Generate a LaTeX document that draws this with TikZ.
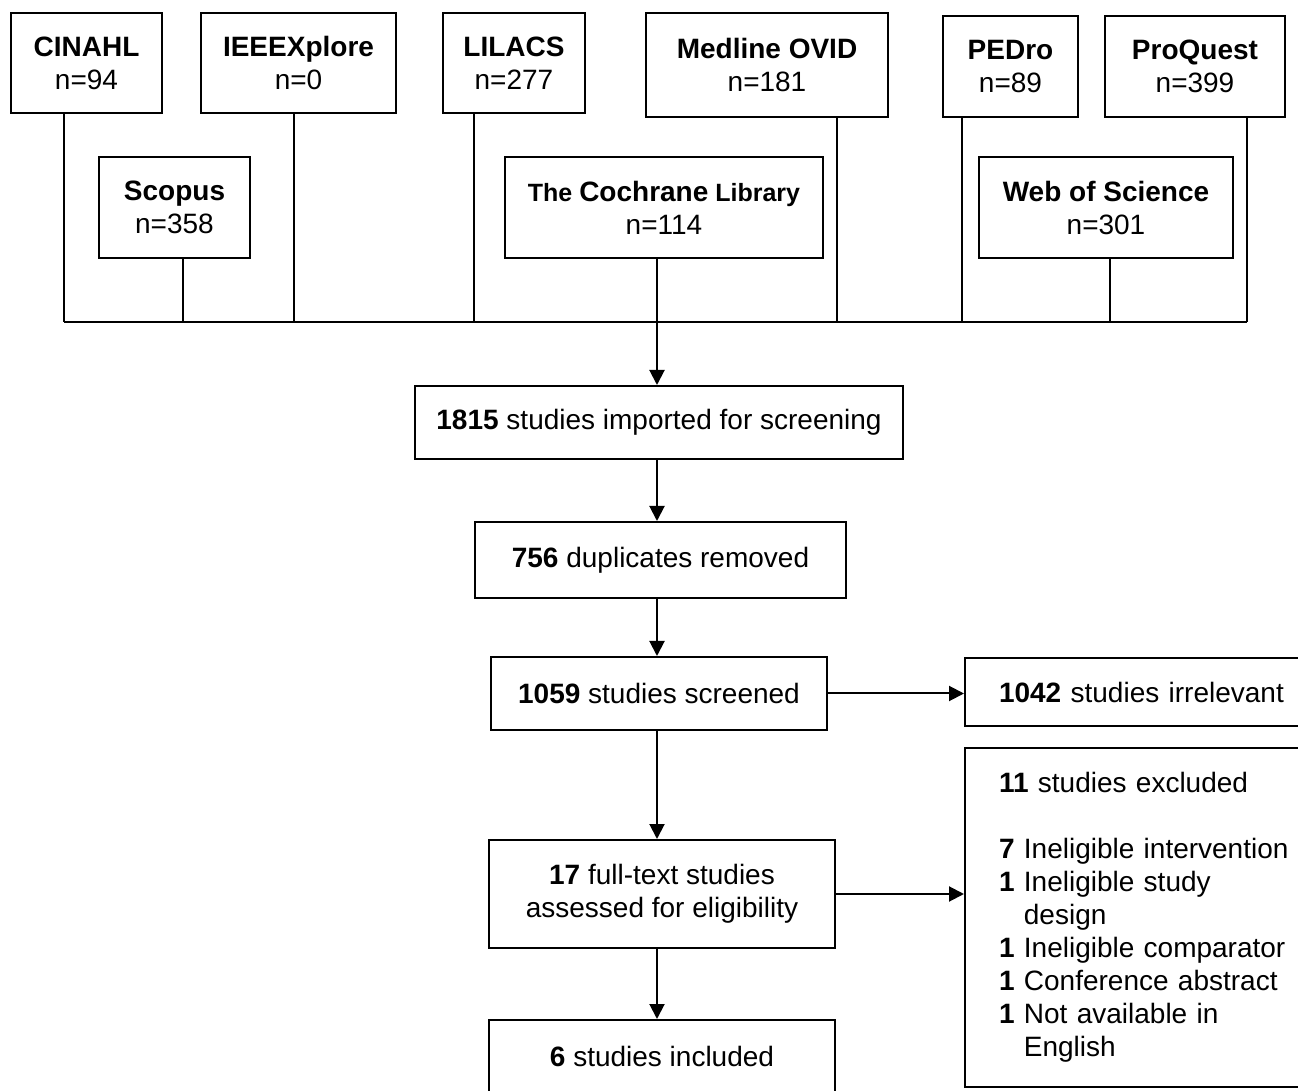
\documentclass[tikz,border=0pt]{standalone}
\usepackage{fontspec}
\setmainfont{Liberation Sans}
\usetikzlibrary{arrows.meta}

\tikzset{
  dbbox/.style={draw, line width=1pt, inner sep=0pt, align=center, anchor=north west,
    font=\fontsize{14}{16.5}\selectfont},
  listbox/.style={dbbox, align=left, text width=150pt, inner xsep=17pt},
  arr/.style={-{Triangle[width=7.5pt,length=7.5pt]}},
}

\begin{document}
\begin{tikzpicture}[x=0.5pt, y=-0.5pt, line width=1pt]
\useasboundingbox (0,0) rectangle (1298,1091);
\clip (0,0) rectangle (1298,1091);

% databases
\node[dbbox, minimum width=75.5pt, minimum height=50pt] (cinahl) at (10,12) {\textbf{CINAHL}\\n=94};
\node[dbbox, minimum width=97.5pt, minimum height=50pt] (ieee) at (200,12) {\textbf{IEEEXplore}\\n=0};
\node[dbbox, minimum width=71pt, minimum height=50pt] (lilacs) at (442,12) {\textbf{LILACS}\\n=277};
\node[dbbox, minimum width=121pt, minimum height=52pt] (medline) at (645,12) {\textbf{Medline OVID}\\n=181};
\node[dbbox, minimum width=67.5pt, minimum height=50.5pt] (pedro) at (942,15) {\textbf{PEDro}\\n=89};
\node[dbbox, minimum width=90pt, minimum height=50.5pt] (proquest) at (1104,15) {\textbf{ProQuest}\\n=399};
\node[dbbox, minimum width=75.5pt, minimum height=50.5pt] (scopus) at (98,156) {\textbf{Scopus}\\n=358};
\node[dbbox, minimum width=159pt, minimum height=50.5pt] (cochrane) at (504,156)
  {\fontsize{12.5}{15.5}\selectfont\textbf{The {\fontsize{14}{15.5}\selectfont Cochrane} Library}\\n=114};
\node[dbbox, minimum width=127pt, minimum height=50.5pt] (wos) at (978,156) {\textbf{Web of Science}\\n=301};

% screening steps
\node[dbbox, minimum width=244pt, minimum height=36.5pt] (imported) at (414,385) {\textbf{1815} studies imported for screening};
\node[dbbox, minimum width=185.5pt, minimum height=38pt] (dup) at (474,521) {\textbf{756} duplicates removed};
\node[dbbox, minimum width=168pt, minimum height=36.5pt] (screened) at (490,656) {\textbf{1059} studies screened};
\node[dbbox, minimum width=173pt, minimum height=54pt] (fulltext) at (488,839) {\textbf{17} full-text studies\\assessed for eligibility};
\node[dbbox, minimum width=173pt, minimum height=36.5pt] (included) at (488,1019) {\textbf{6} studies included};

% exclusions
\node[listbox, minimum height=34pt] (irrel) at (964,657) {\textbf{1042} studies irrelevant};
\node[listbox, minimum height=169.5pt] (excl) at (964,747) {\textbf{11} studies excluded\\[16.5pt]
  \textbf{7} Ineligible intervention\\
  \textbf{1} Ineligible study\\\hphantom{\textbf{1} }design\\
  \textbf{1} Ineligible comparator\\
  \textbf{1} Conference abstract\\
  \textbf{1} Not available in\\\hphantom{\textbf{1} }English};

% joins on the collecting line
\coordinate (j1) at (64,322);
\coordinate (j2) at (183,322);
\coordinate (j3) at (294,322);
\coordinate (j4) at (474,322);
\coordinate (j5) at (657,322);
\coordinate (j6) at (837,322);
\coordinate (j7) at (962,322);
\coordinate (j8) at (1110,322);
\coordinate (j9) at (1247,322);

\draw (cinahl.south -| j1) -- (j1);
\draw (scopus.south -| j2) -- (j2);
\draw (ieee.south -| j3) -- (j3);
\draw (lilacs.south -| j4) -- (j4);
\draw (cochrane.south -| j5) -- (j5);
\draw (medline.south -| j6) -- (j6);
\draw (pedro.south -| j7) -- (j7);
\draw (wos.south -| j8) -- (j8);
\draw (proquest.south -| j9) -- (j9);
\draw (j1) -- (j9);

\draw[arr] (j5) -- (j5 |- imported.north);
\draw[arr] (j5 |- imported.south) -- (j5 |- dup.north);
\draw[arr] (j5 |- dup.south) -- (j5 |- screened.north);
\draw[arr] (j5 |- screened.south) -- (j5 |- fulltext.north);
\draw[arr] (j5 |- fulltext.south) -- (j5 |- included.north);
\draw[arr] (screened.east) -- (screened.east -| irrel.west);
\draw[arr] (fulltext.east) -- (fulltext.east -| excl.west);
\end{tikzpicture}
\end{document}
